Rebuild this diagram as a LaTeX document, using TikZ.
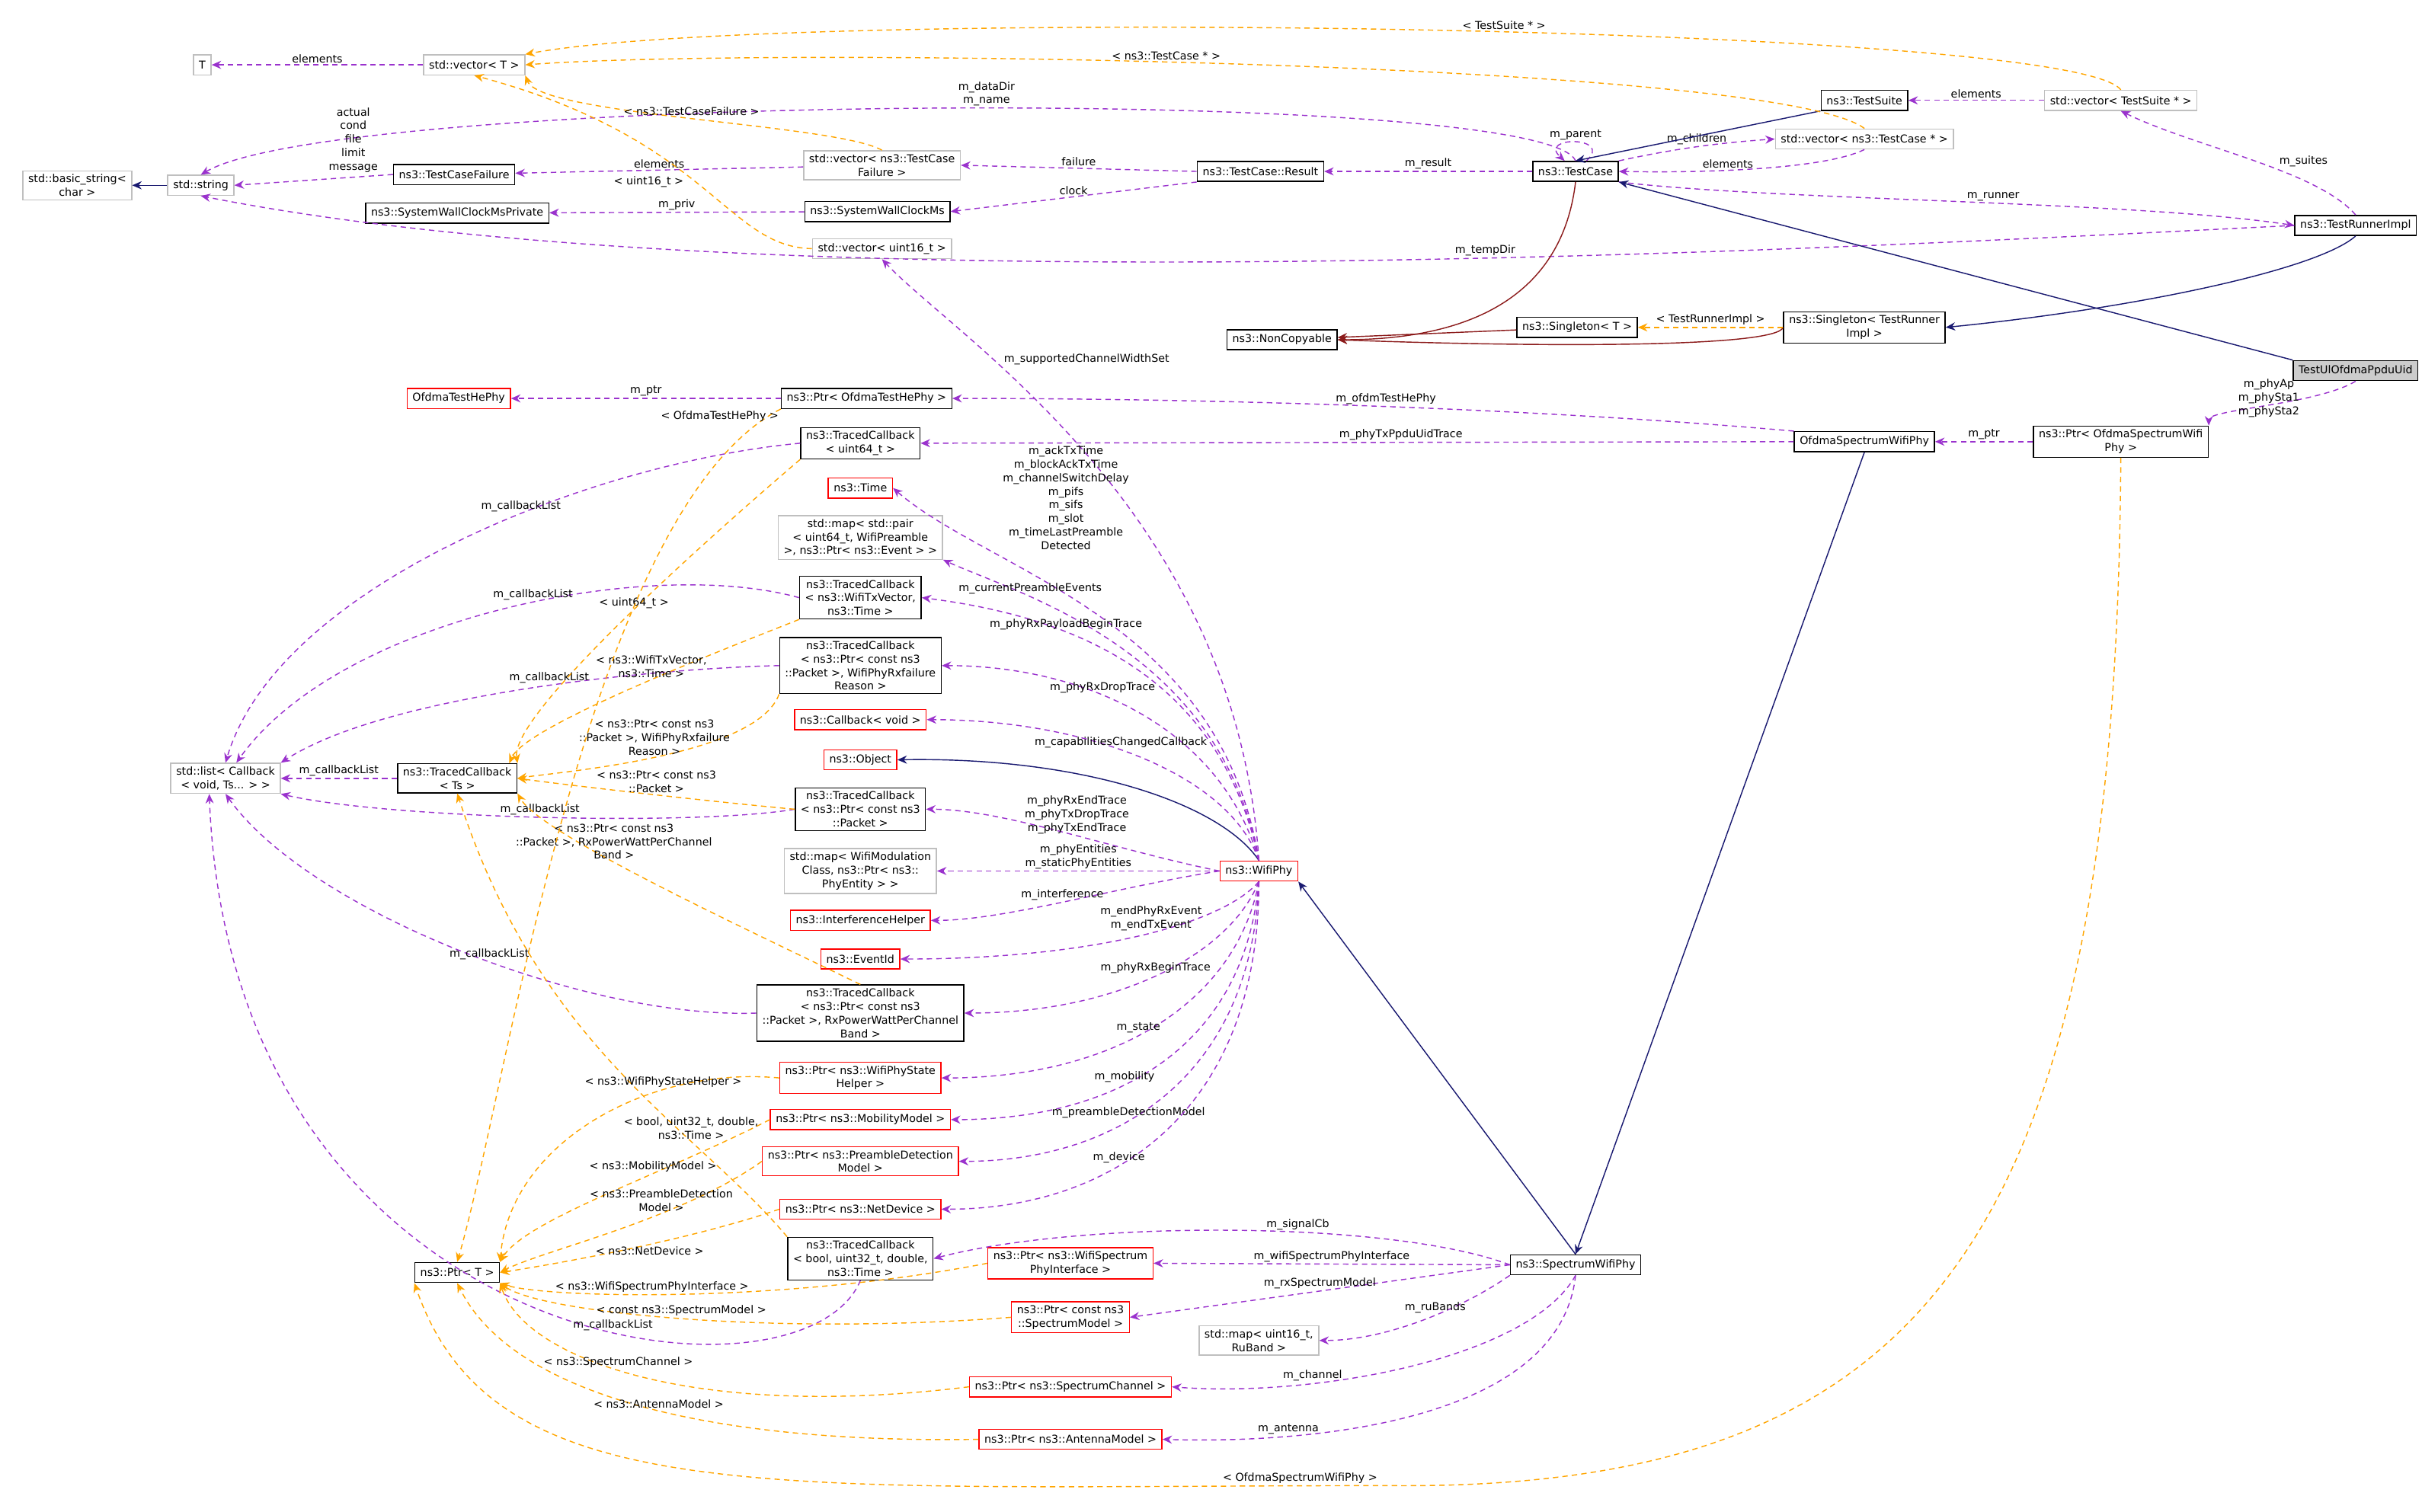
\documentclass[tikz,border=0pt]{standalone}
\usepackage{fontspec}
\setmainfont{DejaVu Sans}
\usetikzlibrary{arrows.meta}
\definecolor{mempurple}{RGB}{154,50,205}
\definecolor{tplorange}{RGB}{255,165,0}
\definecolor{inhnavy}{RGB}{25,25,112}
\definecolor{ncred}{RGB}{139,26,26}
\definecolor{boxgray}{RGB}{191,191,191}
\tikzset{
  line width = 0.4pt,
  cls/.style={
    draw          = black,
    fill          = white,
    font          = \fontsize{4}{5}\selectfont,
    inner xsep    = 2pt,
    inner ysep    = 1.3pt,
    minimum height= 0.26cm,
    align         = center},
  ext/.style={cls, draw = boxgray},
  miss/.style={cls, draw = red},
  self/.style={cls, fill = boxgray!80},
  lbl/.style={
    font      = \fontsize{4}{5}\selectfont,
    inner sep = 0.6pt,
    align     = center},
  mem/.style={
    draw  = mempurple,
    dashed,
    dash pattern = on 2pt off 1.5pt,
    -{Stealth[length=3.5pt,width=3pt]}},
  tpl/.style={mem, draw = tplorange},
  inh/.style={
    draw = inhnavy,
    -{Stealth[length=3.5pt,width=3pt]}},
  nc/.style={inh, draw = ncred}
}

\begin{document}
\begin{tikzpicture}[x=0.02cm, y=-0.02cm]
\useasboundingbox (0,0) rectangle (1568,979);

% top part: test framework
\node[ext]  (t)       at (131,42)   {T};
\node[ext]  (vect)    at (307,42)   {std::vector< T >};
\node[ext]  (bstr)    at (50,120)   {std::basic\_string<\\char >};
\node[ext]  (str)     at (130,120)  {std::string};
\node[cls]  (tcf)     at (294,113)  {ns3::TestCaseFailure};
\node[cls]  (clkpriv) at (296,138)  {ns3::SystemWallClockMsPrivate};
\node[ext]  (vecfail) at (571,107)  {std::vector< ns3::TestCase\\Failure >};
\node[cls]  (clk)     at (568,137)  {ns3::SystemWallClockMs};
\node[ext]  (vecu16)  at (571,161)  {std::vector< uint16\_t >};
\node[cls]  (result)  at (816,111)  {ns3::TestCase::Result};
\node[cls]  (tc)      at (1020,111) {ns3::TestCase};
\node[cls]  (ts)      at (1207,65)  {ns3::TestSuite};
\node[ext]  (vects)   at (1373,65)  {std::vector< TestSuite * >};
\node[ext]  (vectc)   at (1207,90)  {std::vector< ns3::TestCase * >};
\node[cls]  (runner)  at (1525,146) {ns3::TestRunnerImpl};
\node[cls]  (noncopy) at (830,220)  {ns3::NonCopyable};
\node[cls]  (single)  at (1021,212) {ns3::Singleton< T >};
\node[cls]  (singrun) at (1207,212) {ns3::Singleton< TestRunner\\Impl >};
\node[self] (main)    at (1525,240) {TestUlOfdmaPpduUid};

% phy part
\node[cls]  (ptrop)   at (1373,286) {ns3::Ptr< OfdmaSpectrumWifi\\Phy >};
\node[cls]  (ophy)    at (1207,286) {OfdmaSpectrumWifiPhy};
\node[miss] (otest)   at (297,258)  {OfdmaTestHePhy};
\node[cls]  (ptrot)   at (561,258)  {ns3::Ptr< OfdmaTestHePhy >};
\node[cls]  (tcu64)   at (557,287)  {ns3::TracedCallback\\< uint64\_t >};
\node[miss] (time)    at (557,316)  {ns3::Time};
\node[ext]  (mappair) at (557,348)  {std::map< std::pair\\< uint64\_t, WifiPreamble\\>, ns3::Ptr< ns3::Event > >};
\node[cls]  (tctxv)   at (557,387)  {ns3::TracedCallback\\< ns3::WifiTxVector,\\ns3::Time >};
\node[cls]  (tcdrop)  at (557,431)  {ns3::TracedCallback\\< ns3::Ptr< const ns3\\::Packet >, WifiPhyRxfailure\\Reason >};
\node[miss] (cbvoid)  at (557,466)  {ns3::Callback< void >};
\node[miss] (object)  at (557,492)  {ns3::Object};
\node[cls]  (tcpkt)   at (557,524)  {ns3::TracedCallback\\< ns3::Ptr< const ns3\\::Packet >};
\node[ext]  (mapmod)  at (557,564)  {std::map< WifiModulation\\Class, ns3::Ptr< ns3::\\PhyEntity > >};
\node[miss] (interf)  at (557,596)  {ns3::InterferenceHelper};
\node[miss] (evid)    at (557,621)  {ns3::EventId};
\node[cls]  (tcrxb)   at (557,656)  {ns3::TracedCallback\\< ns3::Ptr< const ns3\\::Packet >, RxPowerWattPerChannel\\Band >};
\node[miss] (ptrstate) at (557,698) {ns3::Ptr< ns3::WifiPhyState\\Helper >};
\node[miss] (ptrmob)  at (557,725)  {ns3::Ptr< ns3::MobilityModel >};
\node[miss] (ptrpre)  at (557,752)  {ns3::Ptr< ns3::PreambleDetection\\Model >};
\node[miss] (ptrdev)  at (557,783)  {ns3::Ptr< ns3::NetDevice >};
\node[cls]  (tcbool)  at (557,815)  {ns3::TracedCallback\\< bool, uint32\_t, double,\\ns3::Time >};
\node[miss] (ptrsif)  at (693,818)  {ns3::Ptr< ns3::WifiSpectrum\\PhyInterface >};
\node[miss] (ptrsm)   at (693,853)  {ns3::Ptr< const ns3\\::SpectrumModel >};
\node[ext]  (mapru)   at (815,868)  {std::map< uint16\_t,\\RuBand >};
\node[miss] (ptrch)   at (693,898)  {ns3::Ptr< ns3::SpectrumChannel >};
\node[miss] (ptrant)  at (693,932)  {ns3::Ptr< ns3::AntennaModel >};
\node[miss] (wphy)    at (815,564)  {ns3::WifiPhy};
\node[cls]  (sphy)    at (1020,819) {ns3::SpectrumWifiPhy};
\node[ext]  (cblist)  at (146,504)  {std::list< Callback\\< void, Ts... > >};
\node[cls]  (tcts)    at (296,504)  {ns3::TracedCallback\\< Ts >};
\node[cls]  (ptrt)    at (296,824)  {ns3::Ptr< T >};

% test framework connectors
\draw[mem] (vect) -- (t) node[lbl,midway,above]{elements};
\draw[inh] (str) -- (bstr);
\draw[mem] (tc.north) .. controls (1000,55) and (220,60) .. (str.north)
  node[lbl,pos=0.47,above]{m\_dataDir\\m\_name};
\draw[mem] (tcf.west) -- (str.east)
  node[lbl,pos=0.25,above=1pt]{actual\\cond\\file\\limit\\message};
\draw[mem] (vecfail) -- (tcf) node[lbl,midway,above]{elements};
\draw[mem] (clk) -- (clkpriv) node[lbl,midway,above]{m\_priv};
\draw[mem] (result.west) -- (vecfail.east) node[lbl,midway,above]{failure};
\draw[mem] (result.south west) -- (clk.east) node[lbl,midway,above]{clock};
\draw[mem] (tc) -- (result) node[lbl,midway,above]{m\_result};
\draw[mem] ([xshift=4pt]tc.north) .. controls (1045,88) and (995,88) .. ([xshift=-4pt]tc.north)
  node[lbl,pos=0.5,above]{m\_parent};
\draw[mem] (tc.north east) .. controls (1090,95) and (1120,92) .. (vectc.west)
  node[lbl,pos=0.45,above]{m\_children};
\draw[mem] (vectc.south) .. controls (1180,110) and (1100,112) .. (tc.east)
  node[lbl,pos=0.6,above]{elements};
\draw[inh] (ts.south west) -- (tc.north);
\draw[mem] (vects) -- (ts) node[lbl,midway,above]{elements};
\draw[mem] (runner.north) .. controls (1500,110) and (1420,95) .. (vects.south)
  node[lbl,pos=0.4,above right]{m\_suites};
\draw[mem] (tc.south east) .. controls (1150,130) and (1380,130) .. (runner.west)
  node[lbl,pos=0.55,above]{m\_runner};
\draw[mem] (runner.west) .. controls (1200,160) and (500,200) .. (str.south)
  node[lbl,pos=0.42,above]{m\_tempDir};
\draw[inh] (main.north west) -- (tc.south east);
\draw[inh] (runner.south) .. controls (1500,175) and (1380,200) .. (singrun.east);
\draw[nc] (tc.south) .. controls (1015,160) and (990,220) .. (noncopy.east);
\draw[nc] (single) -- (noncopy);
\draw[nc] (singrun.west) .. controls (1150,225) and (1000,225) .. (noncopy.east);
\draw[tpl] (singrun) -- (single) node[lbl,midway,above]{< TestRunnerImpl >};
\draw[tpl] (vects.north) .. controls (1340,15) and (500,5) .. (vect.north east)
  node[lbl,pos=0.45,above]{< TestSuite * >};
\draw[tpl] (vectc.north) .. controls (1150,40) and (500,30) .. (vect.east)
  node[lbl,pos=0.55,above]{< ns3::TestCase * >};
\draw[tpl] (vecfail.north) .. controls (540,80) and (350,75) .. (vect.south east)
  node[lbl,pos=0.5,above]{< ns3::TestCaseFailure >};
\draw[tpl] (vecu16.west) .. controls (470,160) and (460,90) .. (vect.south)
  node[lbl,pos=0.55,below left]{< uint16\_t >};

% phy connectors
\draw[mem] (main.south) .. controls (1500,262) and (1430,265) .. (ptrop.north east)
  node[lbl,pos=0.3,left=2pt]{m\_phyAp\\m\_phySta1\\m\_phySta2};
\draw[mem] (ptrop) -- (ophy) node[lbl,midway,above]{m\_ptr};
\draw[mem] (ophy.north west) .. controls (1000,265) and (800,258) .. (ptrot.east)
  node[lbl,pos=0.5,above]{m\_ofdmTestHePhy};
\draw[mem] (ophy.west) -- (tcu64.east) node[lbl,pos=0.45,above]{m\_phyTxPpduUidTrace};
\draw[mem] (ptrot) -- (otest) node[lbl,midway,above]{m\_ptr};
\draw[inh] (ophy.south) -- (sphy.north);
\draw[inh] (sphy.north) -- (wphy.south east);
\draw[inh] (wphy.north) .. controls (790,520) and (700,490) .. (object.east);

\draw[mem] (wphy.north) .. controls (800,330) and (620,220) .. (vecu16.south)
  node[lbl,pos=0.68,above right]{m\_supportedChannelWidthSet};
\draw[mem] (wphy.north) .. controls (790,400) and (640,370) .. (time.east)
  node[lbl,pos=0.72,above right=1pt]{m\_ackTxTime\\m\_blockAckTxTime\\m\_channelSwitchDelay\\m\_pifs\\m\_sifs\\m\_slot\\m\_timeLastPreamble\\Detected};
\draw[mem] (wphy.north) .. controls (790,420) and (660,385) .. (mappair.south east)
  node[lbl,pos=0.72,above]{m\_currentPreambleEvents};
\draw[mem] (wphy.north) .. controls (790,440) and (700,400) .. (tctxv.east)
  node[lbl,pos=0.68,above]{m\_phyRxPayloadBeginTrace};
\draw[mem] (wphy.north) .. controls (790,470) and (700,431) .. (tcdrop.east)
  node[lbl,pos=0.6,above]{m\_phyRxDropTrace};
\draw[mem] (wphy.north) .. controls (795,500) and (700,466) .. (cbvoid.east)
  node[lbl,pos=0.55,above]{m\_capabilitiesChangedCallback};
\draw[mem] (wphy.west) .. controls (720,550) and (650,524) .. (tcpkt.east)
  node[lbl,pos=0.45,above]{m\_phyRxEndTrace\\m\_phyTxDropTrace\\m\_phyTxEndTrace};
\draw[mem] (wphy.west) -- (mapmod.east)
  node[lbl,pos=0.5,above]{m\_phyEntities\\m\_staticPhyEntities};
\draw[mem] (wphy.west) .. controls (720,575) and (650,596) .. (interf.east)
  node[lbl,pos=0.5,above]{m\_interference};
\draw[mem] (wphy.south) .. controls (790,600) and (700,621) .. (evid.east)
  node[lbl,pos=0.45,above]{m\_endPhyRxEvent\\m\_endTxEvent};
\draw[mem] (wphy.south) .. controls (795,620) and (720,656) .. (tcrxb.east)
  node[lbl,pos=0.5,above]{m\_phyRxBeginTrace};
\draw[mem] (wphy.south) .. controls (800,650) and (720,698) .. (ptrstate.east)
  node[lbl,pos=0.55,above]{m\_state};
\draw[mem] (wphy.south) .. controls (805,680) and (720,725) .. (ptrmob.east)
  node[lbl,pos=0.6,above]{m\_mobility};
\draw[mem] (wphy.south) .. controls (810,700) and (720,752) .. (ptrpre.east)
  node[lbl,pos=0.6,above]{m\_preambleDetectionModel};
\draw[mem] (wphy.south) .. controls (815,720) and (720,783) .. (ptrdev.east)
  node[lbl,pos=0.62,above]{m\_device};

\draw[mem] (sphy.west) .. controls (900,790) and (700,790) .. (tcbool.east)
  node[lbl,pos=0.4,above]{m\_signalCb};
\draw[mem] (sphy.west) -- (ptrsif.east) node[lbl,pos=0.5,above]{m\_wifiSpectrumPhyInterface};
\draw[mem] (sphy.west) -- (ptrsm.east) node[lbl,pos=0.5,above]{m\_rxSpectrumModel};
\draw[mem] (sphy.south west) .. controls (950,845) and (900,868) .. (mapru.east)
  node[lbl,pos=0.45,above]{m\_ruBands};
\draw[mem] (sphy.south) .. controls (990,880) and (850,905) .. (ptrch.east)
  node[lbl,pos=0.7,above]{m\_channel};
\draw[mem] (sphy.south) .. controls (1010,920) and (850,935) .. (ptrant.east)
  node[lbl,pos=0.75,above]{m\_antenna};

% callback lists
\draw[mem] (tcu64.west) .. controls (380,300) and (180,380) .. (cblist.north)
  node[lbl,pos=0.4,above]{m\_callbackList};
\draw[mem] (tctxv.west) .. controls (420,360) and (220,400) .. ([xshift=4pt]cblist.north)
  node[lbl,pos=0.45,above]{m\_callbackList};
\draw[mem] (tcdrop.west) .. controls (420,433) and (250,450) .. (cblist.north east)
  node[lbl,pos=0.45,above]{m\_callbackList};
\draw[mem] (tcts) -- (cblist) node[lbl,midway,above]{m\_callbackList};
\draw[mem] (tcpkt.west) .. controls (450,535) and (250,530) .. (cblist.south east)
  node[lbl,pos=0.5,above]{m\_callbackList};
\draw[mem] (tcrxb.west) .. controls (380,660) and (200,590) .. (cblist.south)
  node[lbl,pos=0.45,above]{m\_callbackList};
\draw[mem] (tcbool.south) .. controls (520,920) and (150,880) .. ([xshift=-6pt]cblist.south)
  node[lbl,pos=0.4,above]{m\_callbackList};

\draw[tpl] (tcu64.south west) .. controls (480,330) and (330,460) .. (tcts.north east)
  node[lbl,pos=0.5,above]{< uint64\_t >};
\draw[tpl] (tctxv.south west) .. controls (470,420) and (340,470) .. ([xshift=-3pt]tcts.north east)
  node[lbl,pos=0.45,above]{< ns3::WifiTxVector,\\ns3::Time >};
\draw[tpl] (tcdrop.south west) .. controls (490,490) and (360,500) .. (tcts.east)
  node[lbl,pos=0.5,above]{< ns3::Ptr< const ns3\\::Packet >, WifiPhyRxfailure\\Reason >};
\draw[tpl] (tcpkt.west) .. controls (470,520) and (380,510) .. (tcts.east)
  node[lbl,pos=0.5,above]{< ns3::Ptr< const ns3\\::Packet >};
\draw[tpl] (tcrxb.north) .. controls (480,600) and (350,540) .. (tcts.south east)
  node[lbl,pos=0.6,above]{< ns3::Ptr< const ns3\\::Packet >, RxPowerWattPerChannel\\Band >};
\draw[tpl] (tcbool.north west) .. controls (450,730) and (350,680) .. (tcts.south)
  node[lbl,pos=0.3,above]{< bool, uint32\_t, double,\\ns3::Time >};

\draw[tpl] (ptrot.south west) .. controls (380,330) and (330,700) .. (ptrt.north)
  node[lbl,pos=0.0,below left]{< OfdmaTestHePhy >};
\draw[tpl] (ptrstate.west) .. controls (420,690) and (330,740) .. (ptrt.north east)
  node[lbl,pos=0.3,above]{< ns3::WifiPhyStateHelper >};
\draw[tpl] (ptrmob.west) .. controls (430,760) and (340,790) .. (ptrt.north east)
  node[lbl,pos=0.35,above]{< ns3::MobilityModel >};
\draw[tpl] (ptrpre.west) .. controls (440,790) and (350,810) .. (ptrt.east)
  node[lbl,pos=0.35,above]{< ns3::PreambleDetection\\Model >};
\draw[tpl] (ptrdev.west) .. controls (440,805) and (350,820) .. (ptrt.east)
  node[lbl,pos=0.4,below]{< ns3::NetDevice >};
\draw[tpl] (ptrsif.west) .. controls (500,845) and (350,840) .. (ptrt.south east)
  node[lbl,pos=0.55,above]{< ns3::WifiSpectrumPhyInterface >};
\draw[tpl] (ptrsm.west) .. controls (500,865) and (350,850) .. (ptrt.south east)
  node[lbl,pos=0.5,above]{< const ns3::SpectrumModel >};
\draw[tpl] (ptrch.west) .. controls (450,920) and (340,880) .. (ptrt.south east)
  node[lbl,pos=0.55,above]{< ns3::SpectrumChannel >};
\draw[tpl] (ptrant.west) .. controls (450,935) and (330,900) .. (ptrt.south)
  node[lbl,pos=0.45,above]{< ns3::AntennaModel >};
\draw[tpl] (ptrop.south) .. controls (1370,800) and (1250,965) .. (900,962)
  .. controls (500,962) and (320,980) .. (ptrt.south west)
  node[lbl,pos=0.05,above]{< OfdmaSpectrumWifiPhy >};

\end{tikzpicture}
\end{document}
